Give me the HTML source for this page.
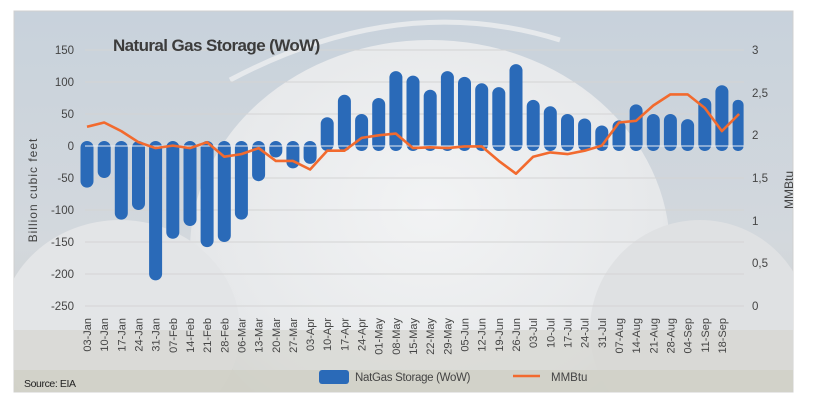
<!DOCTYPE html>
<html><head><meta charset="utf-8"><style>
html,body{margin:0;padding:0;background:#fff;width:813px;height:411px;overflow:hidden}
svg{display:block;font-family:"Liberation Sans",sans-serif}
</style></head><body>
<svg width="813" height="411" viewBox="0 0 813 411" xmlns="http://www.w3.org/2000/svg" style="position:absolute;left:0;top:0">
<defs>
<linearGradient id="sky" x1="0" y1="0" x2="0" y2="1">
<stop offset="0" stop-color="#c8d2dc"/><stop offset="0.6" stop-color="#d3d8dd"/><stop offset="1" stop-color="#cfd0cc"/>
</linearGradient>
<radialGradient id="sph" cx="0.5" cy="0.4" r="0.6">
<stop offset="0" stop-color="#f2f3f4"/><stop offset="0.8" stop-color="#e6e8ea"/><stop offset="1" stop-color="#d8dbde"/>
</radialGradient>
<clipPath id="cl"><rect x="14" y="11" width="779" height="381"/></clipPath>
</defs>
<rect x="14" y="11" width="779" height="381" fill="url(#sky)" stroke="#d0d0d0"/>
<g clip-path="url(#cl)">
<ellipse cx="430" cy="250" rx="240" ry="210" fill="url(#sph)"/>
<ellipse cx="120" cy="330" rx="120" ry="110" fill="#e3e5e7"/>
<ellipse cx="700" cy="330" rx="110" ry="110" fill="#dfe1e3"/>
<path d="M230 80 Q400 -10 560 40" stroke="#e6e9ec" stroke-width="5" fill="none"/>
<rect x="14" y="330" width="779" height="62" fill="#d6d6d0" opacity="0.7"/>
<rect x="14" y="370" width="779" height="22" fill="#cfcfc6" opacity="0.8"/>
</g>
<g stroke="#d4d4d4" stroke-width="1">
<line x1="85" x2="744" y1="50" y2="50"/><line x1="85" x2="744" y1="82" y2="82"/><line x1="85" x2="744" y1="114" y2="114"/>
<line x1="85" x2="744" y1="178" y2="178"/><line x1="85" x2="744" y1="210" y2="210"/><line x1="85" x2="744" y1="242" y2="242"/><line x1="85" x2="744" y1="274" y2="274"/><line x1="85" x2="744" y1="306" y2="306"/>
</g>
<text x="113" y="51" font-size="17" font-weight="bold" fill="#3c3c3c" letter-spacing="-0.6">Natural Gas Storage (WoW)</text>
<g font-size="11.5" fill="#444" text-anchor="end">
<text x="74" y="54">150</text><text x="74" y="86">100</text><text x="74" y="118">50</text><text x="74" y="150">0</text>
<text x="74" y="182">-50</text><text x="74" y="214">-100</text><text x="74" y="246">-150</text><text x="74" y="278">-200</text><text x="74" y="310">-250</text>
</g>
<g font-size="11.5" fill="#444">
<text x="752" y="54">3</text><text x="752" y="97">2,5</text><text x="752" y="139">2</text><text x="752" y="182">1,5</text>
<text x="752" y="225">1</text><text x="752" y="267">0,5</text><text x="752" y="310">0</text>
</g>
<text transform="translate(37,190) rotate(-90)" font-size="12" fill="#444" text-anchor="middle" letter-spacing="1">Billion  cubic feet</text>
<text transform="translate(793,190) rotate(-90)" font-size="12" fill="#444" text-anchor="middle">MMBtu</text>
<g fill="#2a6ab8">
<rect x="80.5" y="141" width="13" height="46.6" rx="6.5"/>
<rect x="97.7" y="141" width="13" height="37" rx="6.5"/>
<rect x="114.8" y="141" width="13" height="78.6" rx="6.5"/>
<rect x="132" y="141" width="13" height="69" rx="6.5"/>
<rect x="149.1" y="141" width="13" height="139.4" rx="6.5"/>
<rect x="166.3" y="141" width="13" height="97.8" rx="6.5"/>
<rect x="183.5" y="141" width="13" height="85" rx="6.5"/>
<rect x="200.6" y="141" width="13" height="106.1" rx="6.5"/>
<rect x="217.8" y="141" width="13" height="101" rx="6.5"/>
<rect x="234.9" y="141" width="13" height="78.6" rx="6.5"/>
<rect x="252.1" y="141" width="13" height="40.2" rx="6.5"/>
<rect x="269.3" y="141" width="13" height="16.5" rx="6.5"/>
<rect x="286.4" y="141" width="13" height="27.4" rx="6.5"/>
<rect x="303.6" y="141" width="13" height="22.9" rx="6.5"/>
<rect x="320.7" y="117.2" width="13" height="33.8" rx="6.5"/>
<rect x="337.9" y="94.8" width="13" height="56.2" rx="6.5"/>
<rect x="355.1" y="114" width="13" height="37" rx="6.5"/>
<rect x="372.2" y="98" width="13" height="53" rx="6.5"/>
<rect x="389.4" y="71.1" width="13" height="79.9" rx="6.5"/>
<rect x="406.5" y="75.6" width="13" height="75.4" rx="6.5"/>
<rect x="423.7" y="89.7" width="13" height="61.3" rx="6.5"/>
<rect x="440.9" y="71.1" width="13" height="79.9" rx="6.5"/>
<rect x="458" y="76.9" width="13" height="74.1" rx="6.5"/>
<rect x="475.2" y="83.3" width="13" height="67.7" rx="6.5"/>
<rect x="492.3" y="87.1" width="13" height="63.9" rx="6.5"/>
<rect x="509.5" y="64.1" width="13" height="86.9" rx="6.5"/>
<rect x="526.7" y="99.9" width="13" height="51.1" rx="6.5"/>
<rect x="543.8" y="106.3" width="13" height="44.7" rx="6.5"/>
<rect x="561" y="114" width="13" height="37" rx="6.5"/>
<rect x="578.1" y="118.5" width="13" height="32.5" rx="6.5"/>
<rect x="595.3" y="125.5" width="13" height="25.5" rx="6.5"/>
<rect x="612.5" y="120.4" width="13" height="30.6" rx="6.5"/>
<rect x="629.6" y="104.4" width="13" height="46.6" rx="6.5"/>
<rect x="646.8" y="114" width="13" height="37" rx="6.5"/>
<rect x="663.9" y="114" width="13" height="37" rx="6.5"/>
<rect x="681.1" y="119.1" width="13" height="31.9" rx="6.5"/>
<rect x="698.3" y="98" width="13" height="53" rx="6.5"/>
<rect x="715.4" y="85.2" width="13" height="65.8" rx="6.5"/>
<rect x="732.6" y="99.9" width="11" height="51.1" rx="5"/>
</g>
<line x1="85" x2="744" y1="146" y2="146" stroke="#e8ecf2" stroke-width="1"/>
<polyline fill="none" stroke="#f26a2e" stroke-width="2.6" stroke-linejoin="round" points="87,126.8 104.2,122.5 121.3,131.1 138.5,142.2 155.6,148.1 172.8,145.6 190,148.1 207.1,142.2 224.3,156.7 241.4,154.1 258.6,148.1 275.8,160.9 292.9,160.9 310.1,169.5 327.2,150.7 344.4,150.7 361.6,137.9 378.7,135.3 395.9,133.6 413,148.1 430.2,147.3 447.4,148.1 464.5,146.4 481.7,146.4 498.8,160.9 516,173.7 533.2,156.7 550.3,152.4 567.5,154.1 584.6,150.7 601.8,145.6 619,122.5 636.1,120.8 653.3,105.5 670.4,94.4 687.6,94.4 704.8,108 721.9,131.1 739.1,114"/>
<g font-size="11" fill="#444" text-anchor="end">
<text transform="translate(91,318) rotate(-90)">03-Jan</text>
<text transform="translate(108.2,318) rotate(-90)">10-Jan</text>
<text transform="translate(125.3,318) rotate(-90)">17-Jan</text>
<text transform="translate(142.5,318) rotate(-90)">24-Jan</text>
<text transform="translate(159.6,318) rotate(-90)">31-Jan</text>
<text transform="translate(176.8,318) rotate(-90)">07-Feb</text>
<text transform="translate(194,318) rotate(-90)">14-Feb</text>
<text transform="translate(211.1,318) rotate(-90)">21-Feb</text>
<text transform="translate(228.3,318) rotate(-90)">28-Feb</text>
<text transform="translate(245.4,318) rotate(-90)">06-Mar</text>
<text transform="translate(262.6,318) rotate(-90)">13-Mar</text>
<text transform="translate(279.8,318) rotate(-90)">20-Mar</text>
<text transform="translate(296.9,318) rotate(-90)">27-Mar</text>
<text transform="translate(314.1,318) rotate(-90)">03-Apr</text>
<text transform="translate(331.2,318) rotate(-90)">10-Apr</text>
<text transform="translate(348.4,318) rotate(-90)">17-Apr</text>
<text transform="translate(365.6,318) rotate(-90)">24-Apr</text>
<text transform="translate(382.7,318) rotate(-90)">01-May</text>
<text transform="translate(399.9,318) rotate(-90)">08-May</text>
<text transform="translate(417,318) rotate(-90)">15-May</text>
<text transform="translate(434.2,318) rotate(-90)">22-May</text>
<text transform="translate(451.4,318) rotate(-90)">29-May</text>
<text transform="translate(468.5,318) rotate(-90)">05-Jun</text>
<text transform="translate(485.7,318) rotate(-90)">12-Jun</text>
<text transform="translate(502.8,318) rotate(-90)">19-Jun</text>
<text transform="translate(520,318) rotate(-90)">26-Jun</text>
<text transform="translate(537.2,318) rotate(-90)">03-Jul</text>
<text transform="translate(554.3,318) rotate(-90)">10-Jul</text>
<text transform="translate(571.5,318) rotate(-90)">17-Jul</text>
<text transform="translate(588.6,318) rotate(-90)">24-Jul</text>
<text transform="translate(605.8,318) rotate(-90)">31-Jul</text>
<text transform="translate(623,318) rotate(-90)">07-Aug</text>
<text transform="translate(640.1,318) rotate(-90)">14-Aug</text>
<text transform="translate(657.3,318) rotate(-90)">21-Aug</text>
<text transform="translate(674.4,318) rotate(-90)">28-Aug</text>
<text transform="translate(691.6,318) rotate(-90)">04-Sep</text>
<text transform="translate(708.8,318) rotate(-90)">11-Sep</text>
<text transform="translate(725.9,318) rotate(-90)">18-Sep</text>
</g>
<rect x="319" y="370" width="30" height="14" rx="3" fill="#2a6ab8"/>
<text x="355" y="381" font-size="11.5" fill="#444" letter-spacing="-0.3">NatGas Storage (WoW)</text>
<line x1="513" x2="540" y1="376" y2="376" stroke="#f26a2e" stroke-width="2.6"/>
<text x="551" y="381" font-size="11.5" fill="#444">MMBtu</text>
<text x="24" y="387" font-size="10.5" fill="#222" letter-spacing="-0.4">Source: EIA</text>
</svg>
</body></html>
